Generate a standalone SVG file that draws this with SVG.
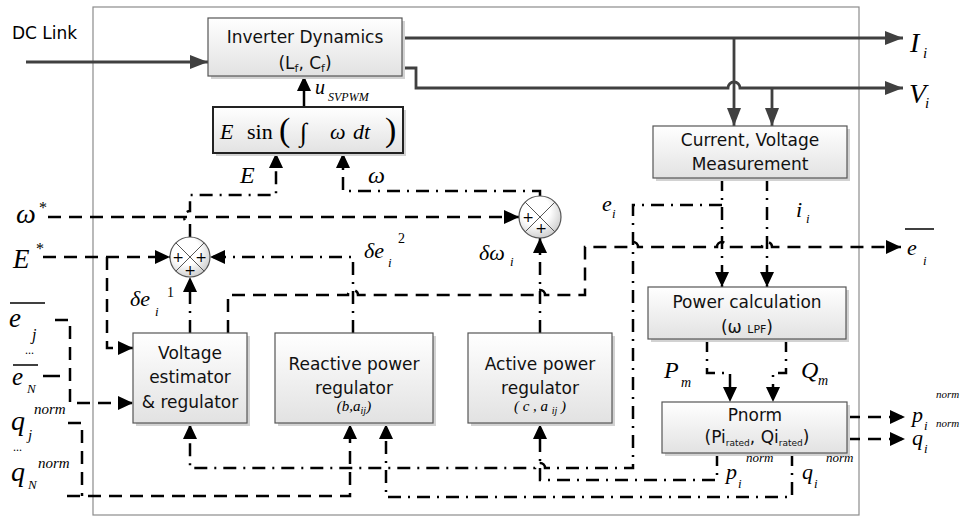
<svg xmlns="http://www.w3.org/2000/svg" width="962" height="517" viewBox="0 0 962 517">
<defs>
<linearGradient id="bg" x1="0" y1="0" x2="0" y2="1"><stop offset="0" stop-color="#ffffff"/><stop offset="1" stop-color="#e2e2e2"/></linearGradient>
<radialGradient id="cg" cx="0.4" cy="0.35" r="0.75"><stop offset="0.45" stop-color="#ffffff"/><stop offset="1" stop-color="#c4c4c4"/></radialGradient>
<marker id="ab" viewBox="0 0 15 14" refX="15" refY="7" markerWidth="15" markerHeight="14" markerUnits="userSpaceOnUse" orient="auto"><path d="M0,0 L15,7 L0,14 z" fill="#000"/></marker>
<marker id="ag" viewBox="0 0 18 14" refX="18" refY="7" markerWidth="18" markerHeight="14" markerUnits="userSpaceOnUse" orient="auto"><path d="M0,0 L18,7 L0,14 z" fill="#404040"/></marker>
</defs>
<style>
.box{fill:url(#bg);stroke:#555;stroke-width:1.2}
.sh{fill:#d2d2d2}
.bt{font-family:"DejaVu Sans","Liberation Sans",sans-serif;font-size:17px;fill:#111;text-anchor:middle}
.m{font-family:"Liberation Serif","Times New Roman",serif;font-style:italic;fill:#000}
.pw{fill:none;stroke:#404040;stroke-width:2.8}
.sd{fill:none;stroke:#000;stroke-width:2.5}
.da{fill:none;stroke:#000;stroke-width:2.5;stroke-dasharray:13 8}
.dd{fill:none;stroke:#000;stroke-width:2.5;stroke-dasharray:13 7 2 7}
.ol{stroke:#000;stroke-width:1.5}
.pl{font-family:"DejaVu Sans",sans-serif;font-size:14px;text-anchor:middle;fill:#000}
</style>
<rect id="frame" x="93" y="7" width="766" height="508" fill="none" stroke="#8c8c8c" stroke-width="1.2"/>

<g id="connectors">
<path class="pw" d="M26,62 H208" marker-end="url(#ag)"/>
<path class="pw" d="M402,38 H903" marker-end="url(#ag)"/>
<path class="pw" d="M402,68 H416 V88 H728 A6,6 0 0 1 740,88 H903" marker-end="url(#ag)"/>
<path class="pw" d="M734,38 V126" marker-end="url(#ag)"/>
<path class="pw" d="M772,88 V126" marker-end="url(#ag)"/>
<path class="sd" d="M304,107 V76" marker-end="url(#ab)"/>
<path class="da" d="M48,217 H519" marker-end="url(#ab)"/>
<path class="da" d="M43,257 H170" marker-end="url(#ab)"/>
<path class="da" d="M107,257 V348 H133" marker-end="url(#ab)"/>
<path class="da" d="M228,333 V295 H348 A5,5 0 0 1 358,295 H535 A5,5 0 0 1 545,295 H585 V247 H628 A5,5 0 0 1 638,247 H717 A5,5 0 0 1 727,247 H762 A5,5 0 0 1 772,247 H901" marker-end="url(#ab)"/>
<path class="da" d="M55,320 H70 V403 H133" marker-end="url(#ab)"/>
<path class="sd" d="M43,376 H60"/>
<path class="da" d="M68,423 H82 V496 M67,496 H350 V424" marker-end="url(#ab)"/>
<path class="da" d="M847,417 H905" marker-end="url(#ab)"/>
<path class="da" d="M847,439 H905" marker-end="url(#ab)"/>
<path class="dd" d="M190,237 V223 A6,6 0 0 1 190,211 V195 H276 V153" marker-end="url(#ab)"/>
<path class="dd" d="M540,196 V191 H343 V153" marker-end="url(#ab)"/>
<path class="dd" d="M190,333 V277" marker-end="url(#ab)"/>
<path class="dd" d="M353,333 V257 H210" marker-end="url(#ab)"/>
<path class="dd" d="M540,333 V238" marker-end="url(#ab)"/>
<path class="dd" d="M722,178 V287" marker-end="url(#ab)"/>
<path class="dd" d="M722,205 H633 V468 H545 A5,5 0 0 0 535,468 H190 V424" marker-end="url(#ab)"/>
<path class="dd" d="M767,178 V287" marker-end="url(#ab)"/>
<path class="dd" d="M707,339 V373 H730 V402" marker-end="url(#ab)"/>
<path class="dd" d="M786,339 V373 H773 V402" marker-end="url(#ab)"/>
<path class="dd" d="M717,453 V480 H540 V424" marker-end="url(#ab)"/>
<path class="dd" d="M792,453 V497 H386 V424" marker-end="url(#ab)"/>
</g>

<g id="inverter">
<rect class="sh" x="211" y="21" width="194" height="58"/>
<rect class="box" x="208" y="18" width="194" height="58"/>
<text class="bt" x="305" y="43">Inverter Dynamics</text>
<text class="bt" x="305" y="69">(L<tspan font-size="11" dy="3">f</tspan><tspan dy="-3">, C</tspan><tspan font-size="11" dy="3">f</tspan><tspan dy="-3">)</tspan></text>
</g>

<g id="esin">
<rect class="sh" x="216" y="110" width="190" height="46"/>
<rect x="213" y="107" width="190" height="46" fill="url(#bg)" stroke="#222" stroke-width="2"/>
<text class="m" font-size="22" x="220" y="139">E</text>
<text font-family="Liberation Serif,serif" font-size="22" x="247" y="139">sin</text>
<text font-family="Liberation Serif,serif" font-size="34" x="279" y="141">(</text>
<text font-family="Liberation Serif,serif" font-size="26" x="300" y="141">∫</text>
<text class="m" font-size="22" x="330" y="139">ω</text>
<text class="m" font-size="22" x="353" y="139">dt</text>
<text font-family="Liberation Serif,serif" font-size="34" x="385" y="141">)</text>
</g>

<g id="measure">
<rect class="sh" x="656" y="129" width="194" height="52"/>
<rect class="box" x="653" y="126" width="194" height="52"/>
<text class="bt" x="750" y="146">Current, Voltage</text>
<text class="bt" x="750" y="170">Measurement</text>
</g>

<g id="powercalc">
<rect class="sh" x="651" y="290" width="198" height="52"/>
<rect class="box" x="648" y="287" width="198" height="52"/>
<text class="bt" x="747" y="308">Power calculation</text>
<text class="bt" x="747" y="333">(ω <tspan font-size="11">LPF</tspan>)</text>
</g>

<g id="pnorm">
<rect class="sh" x="665" y="405" width="185" height="51"/>
<rect class="box" x="662" y="402" width="185" height="51"/>
<text class="bt" font-size="14" x="755" y="421">Pnorm</text>
<text class="bt" font-size="14" x="757" y="443">(Pi<tspan font-size="9" dy="3">rated</tspan><tspan dy="-3">, Qi</tspan><tspan font-size="9" dy="3">rated</tspan><tspan dy="-3">)</tspan></text>
</g>

<g id="voltage">
<rect class="sh" x="136" y="336" width="114" height="90"/>
<rect class="box" x="133" y="333" width="114" height="90"/>
<text class="bt" x="190" y="359">Voltage</text>
<text class="bt" x="190" y="383">estimator</text>
<text class="bt" x="190" y="408">&amp; regulator</text>
</g>

<g id="reactive">
<rect class="sh" x="278" y="336" width="158" height="90"/>
<rect class="box" x="275" y="333" width="158" height="90"/>
<text class="bt" x="354" y="370">Reactive power</text>
<text class="bt" x="354" y="394">regulator</text>
<text class="m" font-size="15" x="354" y="411" text-anchor="middle">(b,a<tspan font-size="10" dy="3">ij</tspan><tspan dy="-3">)</tspan></text>
</g>

<g id="active">
<rect class="sh" x="471" y="336" width="144" height="90"/>
<rect class="box" x="468" y="333" width="144" height="90"/>
<text class="bt" x="540" y="370">Active power</text>
<text class="bt" x="540" y="394">regulator</text>
<text class="m" font-size="15" x="540" y="411" text-anchor="middle">( c , a <tspan font-size="10" dy="3">ij</tspan><tspan dy="-3"> )</tspan></text>
</g>

<g id="sum1">
<circle cx="190" cy="257" r="20" fill="url(#cg)" stroke="#555" stroke-width="1.2"/>
<path d="M175.9,242.9 L204.1,271.1 M204.1,242.9 L175.9,271.1" stroke="#555" stroke-width="1"/>
<text class="pl" x="178" y="262">+</text>
<text class="pl" x="201" y="262">+</text>
<text class="pl" x="190" y="275">+</text>
</g>

<g id="sum2">
<circle cx="540" cy="217" r="21" fill="url(#cg)" stroke="#555" stroke-width="1.2"/>
<path d="M525.2,202.2 L554.8,231.8 M554.8,202.2 L525.2,231.8" stroke="#555" stroke-width="1"/>
<text class="pl" x="528" y="222">+</text>
<text class="pl" x="541" y="233">+</text>
</g>

<g id="labels">
<text font-family="DejaVu Sans,Liberation Sans,sans-serif" font-size="17" x="12" y="39">DC Link</text>
<text class="m" font-size="28" x="910" y="52">I</text><text class="m" font-size="15" x="923" y="58">i</text>
<text class="m" font-size="28" x="909" y="103">V</text><text class="m" font-size="15" x="925" y="108">i</text>
<text class="m" font-size="20" x="315" y="94">u</text><text class="m" font-size="12" x="328" y="101">SVPWM</text>
<text class="m" font-size="24" x="240" y="183">E</text>
<text class="m" font-size="24" x="368" y="183">ω</text>
<text class="m" font-size="28" x="16" y="223">ω</text><text font-family="Liberation Serif,serif" font-size="16" x="39" y="213">*</text>
<text class="m" font-size="27" x="13" y="268">E</text><text font-family="Liberation Serif,serif" font-size="16" x="36" y="254">*</text>
<text class="m" font-size="22" x="602" y="211">e</text><text class="m" font-size="13" x="612" y="218">i</text>
<text class="m" font-size="22" x="796" y="217">i</text><text class="m" font-size="13" x="806" y="223">i</text>
<text class="m" font-size="22" x="907" y="255">e</text><text class="m" font-size="13" x="923" y="265">i</text>
<line class="ol" x1="905" y1="229" x2="934" y2="229"/>
<text class="m" font-size="22" x="364" y="258">δe</text><text class="m" font-size="13" x="388" y="267">i</text><text font-family="Liberation Serif,serif" font-size="14" x="398" y="243">2</text>
<text class="m" font-size="22" x="479" y="260">δω</text><text class="m" font-size="13" x="510" y="266">i</text>
<text class="m" font-size="22" x="130" y="306">δe</text><text class="m" font-size="13" x="155" y="316">i</text><text font-family="Liberation Serif,serif" font-size="14" x="167" y="297">1</text>
<line class="ol" x1="10" y1="303" x2="45" y2="303"/>
<text class="m" font-size="27" x="9" y="327">e</text><text class="m" font-size="16" x="32" y="340">j</text>
<text font-family="Liberation Serif,serif" font-size="12" x="25" y="354">...</text>
<line class="ol" x1="13" y1="365" x2="38" y2="365"/>
<text class="m" font-size="25" x="12" y="385">e</text><text class="m" font-size="13" x="27" y="393">N</text>
<text class="m" font-size="28" x="11" y="430">q</text><text class="m" font-size="15" x="28" y="440">j</text><text class="m" font-size="15" x="34" y="414">norm</text>
<text font-family="Liberation Serif,serif" font-size="12" x="13" y="451">...</text>
<text class="m" font-size="28" x="11" y="481">q</text><text class="m" font-size="13" x="28" y="489">N</text><text class="m" font-size="15" x="38" y="468">norm</text>
<text class="m" font-size="24" x="664" y="378">P</text><text class="m" font-size="14" x="681" y="387">m</text>
<text class="m" font-size="24" x="801" y="378">Q</text><text class="m" font-size="14" x="818" y="385">m</text>
<text class="m" font-size="22" x="912" y="422">p</text><text class="m" font-size="13" x="924" y="430">i</text><text class="m" font-size="11" x="936" y="398">norm</text>
<text class="m" font-size="22" x="912" y="445">q</text><text class="m" font-size="13" x="924" y="453">i</text><text class="m" font-size="11" x="936" y="427">norm</text>
<text class="m" font-size="22" x="726" y="479">p</text><text class="m" font-size="13" x="738" y="488">i</text><text class="m" font-size="13" x="746" y="462">norm</text>
<text class="m" font-size="22" x="802" y="479">q</text><text class="m" font-size="13" x="814" y="488">i</text><text class="m" font-size="13" x="826" y="462">norm</text>
</g>
</svg>
